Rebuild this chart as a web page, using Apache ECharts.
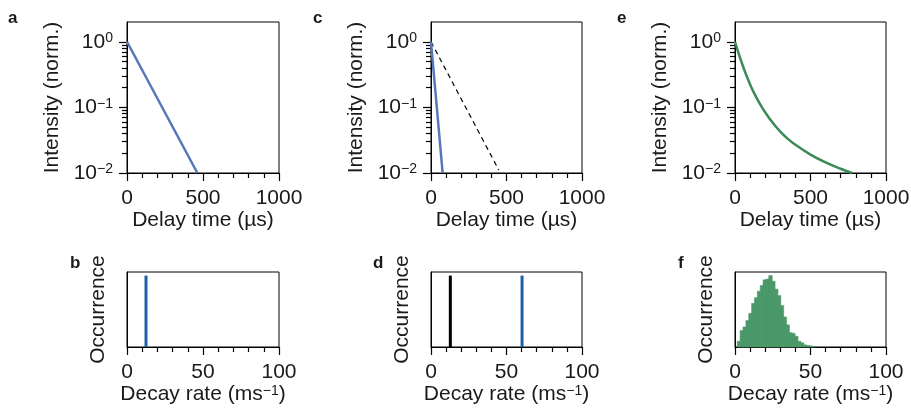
<!DOCTYPE html>
<html>
<head>
<meta charset="utf-8">
<script src="https://cdn.jsdelivr.net/npm/echarts@6/dist/echarts.min.js"></script>
<style>
html,body{margin:0;padding:0;background:#fff;}
#chart{width:911px;height:413px;}
</style>
</head>
<body>
<div id="chart"></div>
<script>
// ---------- data ----------
const panelLetters = ['a', 'b', 'c', 'd', 'e', 'f'];
const delayTicks = [0, 500, 1000];
const delayMinorTicks = [100, 200, 300, 400, 600, 700, 800, 900];
const rateTicks = [0, 50, 100];
const rateMinorTicks = [10, 20, 30, 40, 60, 70, 80, 90];
const intensityTicks = [0.01, 0.1, 1];
const intensityMinorTicks = [0.02, 0.03, 0.04, 0.05, 0.06, 0.07, 0.08, 0.09, 0.2, 0.3, 0.4, 0.5, 0.6, 0.7, 0.8, 0.9];

// panel a: single exponential
const timeA = [0, 463];
const intensityA = [1, 0.01];
// panel c: fast exponential (blue) and reference (dashed)
const timeC = [0, 77];
const intensityC = [1, 0.01];
const timeCref = [0, 449];
const intensityCref = [1, 0.0111];
// panel e: multi-exponential decay
const timeE = [0, 25, 50, 75, 100, 125, 150, 175, 200, 250, 300, 350, 400, 500, 600, 700, 775];
const intensityE = [1, 0.653, 0.442, 0.309, 0.224, 0.168, 0.130, 0.1035, 0.0841, 0.0582, 0.0427, 0.0331, 0.0269, 0.0191, 0.0145, 0.0116, 0.0100];

// panel b: single rate
const rateB = [12.5];
const occB = [1];
// panel d: reference rate (black) and fast rate (blue)
const rateDref = [12.8];
const occDref = [1];
const rateD = [60.3];
const occD = [1];
// panel f: rate distribution histogram
const binEdgesF = [1.5, 3.4, 5.3, 7.2, 9.1, 11.0, 12.9, 14.8, 16.7, 18.6, 20.5, 22.4, 24.3, 26.2, 28.1, 30.0, 31.9, 33.8, 35.7, 37.6, 39.5, 41.4, 43.3, 45.2, 47.1, 49.0, 50.9, 52.8];
const countsF = [0.08, 0.23, 0.28, 0.37, 0.47, 0.61, 0.69, 0.78, 0.86, 0.94, 0.95, 1.0, 0.92, 0.81, 0.72, 0.58, 0.42, 0.31, 0.20, 0.19, 0.15, 0.08, 0.06, 0.03, 0.02, 0.015, 0.01];

// ---------- styling ----------
const FONT = "'Liberation Sans', Arial, Helvetica, sans-serif";
const TXT = '#1a1a1a';
const BLUE_LINE = '#5677b8';
const BLUE_BAR = '#1b60a8';
const GREEN_LINE = '#3c8a58';
const GREEN_BAR = '#4b9868';

const chart = echarts.init(document.getElementById('chart'), null, {renderer: 'canvas'});

const topGrids = [
  {left: 127, top: 22, width: 152, height: 151},
  {left: 431, top: 22, width: 151, height: 151},
  {left: 735, top: 22, width: 151, height: 151}
];
const botGrids = [
  {left: 127, top: 272, width: 152, height: 75},
  {left: 431, top: 272, width: 151, height: 75},
  {left: 735, top: 272, width: 151, height: 75}
];

const grids = [];
const xAxes = [];
const yAxes = [];
const xMinor = [];
const yMinor = [];
const supRich = {
  b: {fontSize: 21, fontFamily: FONT, color: TXT},
  s: {fontSize: 14, fontFamily: FONT, color: TXT, verticalAlign: 'top'}
};
const axisLineStyle = {show: true, onZero: false, lineStyle: {color: '#000', width: 1}};
const minorTickStyle = {color: '#000', width: 1.2};

function supLabel(v) {
  const e = Math.round(Math.log10(v));
  const s = e < 0 ? '\u2212' + (-e) : String(e);
  return '{b|10}{s|' + s + '}';
}
function plainLabel(v) { return String(v); }

function minorX(gi, min, max, values) {
  return {
    type: 'value', gridIndex: gi, position: 'bottom', offset: 0, min: min, max: max,
    axisLine: {show: false}, axisLabel: {show: false}, splitLine: {show: false},
    axisTick: {show: true, length: 5, customValues: values, lineStyle: minorTickStyle}
  };
}

topGrids.forEach((g) => {
  grids.push(Object.assign({show: true, borderColor: '#000', borderWidth: 1, backgroundColor: 'transparent', containLabel: false, outerBoundsMode: 'none'}, g));
  const gi = grids.length - 1;
  xAxes.push({
    type: 'value', gridIndex: gi, position: 'bottom', min: delayTicks[0], max: delayTicks[delayTicks.length - 1], interval: 500,
    name: 'Delay time (\u00b5s)', nameLocation: 'middle', nameGap: 35,
    nameTextStyle: {fontSize: 21, fontFamily: FONT, color: TXT},
    axisLine: axisLineStyle,
    axisTick: {show: true, length: 8, customValues: delayTicks, lineStyle: {color: '#000', width: 1.2}},
    axisLabel: {fontSize: 21, fontFamily: FONT, color: TXT, margin: 15, customValues: delayTicks, formatter: plainLabel},
    splitLine: {show: false}
  });
  xMinor.push(minorX(gi, delayTicks[0], delayTicks[delayTicks.length - 1], delayMinorTicks));
  yAxes.push({
    type: 'log', logBase: 10, gridIndex: gi, position: 'left', min: intensityTicks[0], max: 2,
    name: 'Intensity (norm.)', nameLocation: 'middle', nameGap: 64,
    nameTextStyle: {fontSize: 21, fontFamily: FONT, color: TXT},
    axisLine: axisLineStyle,
    axisTick: {show: true, length: 8, customValues: intensityTicks, lineStyle: {color: '#000', width: 1.2}},
    axisLabel: {margin: 14, customValues: intensityTicks, formatter: supLabel, rich: supRich},
    splitLine: {show: false}
  });
  yMinor.push({
    type: 'log', logBase: 10, gridIndex: gi, position: 'left', offset: 0, min: intensityTicks[0], max: 2,
    axisLine: {show: false}, axisLabel: {show: false}, splitLine: {show: false},
    axisTick: {show: true, length: 5, customValues: intensityMinorTicks, lineStyle: minorTickStyle}
  });
});

botGrids.forEach((g) => {
  grids.push(Object.assign({show: true, borderColor: '#000', borderWidth: 1, backgroundColor: 'transparent', containLabel: false, outerBoundsMode: 'none'}, g));
  const gi = grids.length - 1;
  xAxes.push({
    type: 'value', gridIndex: gi, position: 'bottom', min: rateTicks[0], max: rateTicks[rateTicks.length - 1], interval: 50,
    name: '{n|Decay rate (ms}{s|\u22121}{n|)}', nameLocation: 'middle', nameGap: 36,
    nameTextStyle: {fontSize: 21, fontFamily: FONT, color: TXT, rich: {
      n: {fontSize: 21, fontFamily: FONT, color: TXT},
      s: {fontSize: 14, fontFamily: FONT, color: TXT, verticalAlign: 'top'}
    }},
    axisLine: axisLineStyle,
    axisTick: {show: true, length: 8, customValues: rateTicks, lineStyle: {color: '#000', width: 1.2}},
    axisLabel: {fontSize: 21, fontFamily: FONT, color: TXT, margin: 15, customValues: rateTicks, formatter: plainLabel},
    splitLine: {show: false}
  });
  xMinor.push(minorX(gi, rateTicks[0], rateTicks[rateTicks.length - 1], rateMinorTicks));
  yAxes.push({
    type: 'value', gridIndex: gi, position: 'left', min: 0, max: 1.05,
    name: 'Occurrence', nameLocation: 'middle', nameGap: 18,
    nameTextStyle: {fontSize: 21, fontFamily: FONT, color: TXT},
    axisLine: axisLineStyle,
    axisTick: {show: false},
    axisLabel: {show: false},
    splitLine: {show: false}
  });
});

function zip(xs, ys) { return xs.map((x, i) => [x, ys[i]]); }

const histData = countsF.map((c, i) => [binEdgesF[i], binEdgesF[i + 1], c]);

const series = [
  {type: 'line', xAxisIndex: 0, yAxisIndex: 0, data: zip(timeA, intensityA), showSymbol: false, lineStyle: {color: BLUE_LINE, width: 2.5}, silent: true},
  {type: 'line', xAxisIndex: 1, yAxisIndex: 1, data: zip(timeCref, intensityCref), showSymbol: false, lineStyle: {color: '#000', width: 1.2, type: [5, 4]}, silent: true},
  {type: 'line', xAxisIndex: 1, yAxisIndex: 1, data: zip(timeC, intensityC), showSymbol: false, lineStyle: {color: BLUE_LINE, width: 2.5}, silent: true},
  {type: 'line', xAxisIndex: 2, yAxisIndex: 2, data: zip(timeE, intensityE), showSymbol: false, smooth: 0.4, lineStyle: {color: GREEN_LINE, width: 2.5}, silent: true},
  {type: 'bar', xAxisIndex: 3, yAxisIndex: 3, data: zip(rateB, occB), barWidth: 3, itemStyle: {color: BLUE_BAR}, silent: true},
  {type: 'bar', xAxisIndex: 4, yAxisIndex: 4, data: zip(rateDref, occDref), barWidth: 3, barGap: '-100%', itemStyle: {color: '#000'}, silent: true},
  {type: 'bar', xAxisIndex: 4, yAxisIndex: 4, data: zip(rateD, occD), barWidth: 3, barGap: '-100%', itemStyle: {color: BLUE_BAR}, silent: true},
  {type: 'custom', xAxisIndex: 5, yAxisIndex: 5, data: histData, silent: true,
    renderItem: function (params, api) {
      const p0 = api.coord([api.value(0), 0]);
      const p1 = api.coord([api.value(1), api.value(2)]);
      return {type: 'rect', shape: {x: p0[0], y: p1[1], width: p1[0] - p0[0] + 0.5, height: p0[1] - p1[1]}, style: {fill: GREEN_BAR, stroke: GREEN_BAR, lineWidth: 0.6}};
    }
  }
];

const letterPos = [[8, 10], [70, 255], [313, 10], [373, 255], [617, 10], [678, 255]];
const titles = panelLetters.map((t, i) => ({
  text: t, left: letterPos[i][0], top: letterPos[i][1], padding: 0,
  textStyle: {fontSize: 17, fontWeight: 'bold', fontFamily: FONT, color: TXT}
}));

chart.setOption({
  animation: false,
  backgroundColor: '#fff',
  title: titles,
  grid: grids,
  xAxis: xAxes.concat(xMinor),
  yAxis: yAxes.concat(yMinor),
  series: series
});
</script>
</body>
</html>
